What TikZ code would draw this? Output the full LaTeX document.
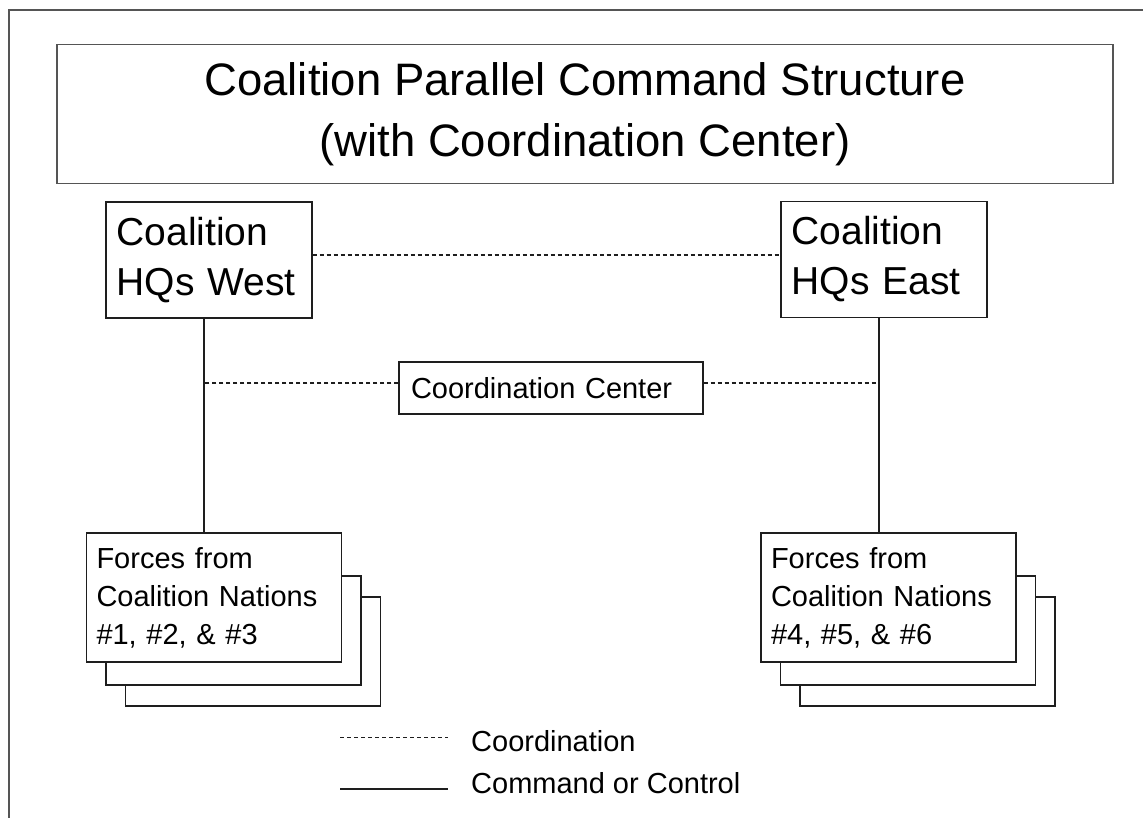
\documentclass[tikz,border=0pt]{standalone}
\usepackage{fontspec}
\setmainfont{Liberation Sans}
\usetikzlibrary{calc}

\definecolor{framegray}{RGB}{85,85,85}
\definecolor{inkline}{RGB}{30,30,30}

\tikzset{
  box/.style={draw=inkline, line width=1.3pt, fill=white, rectangle, inner sep=0pt},
  hqbox/.style={box, minimum width=206pt, minimum height=116pt, inner xsep=10.5pt,
                text width=185pt, align=left, font=\fontsize{39}{50}\selectfont},
  forcebox/.style={box, minimum width=255pt, minimum height=129pt, inner xsep=10pt,
                   text width=235pt, align=left, font=\fontsize{29}{38}\selectfont},
  backbox/.style={box, minimum width=255pt, minimum height=109pt},
  coord/.style={draw=inkline, line width=1.1pt, dash pattern=on 4pt off 3pt},
  cmd/.style={draw=inkline, line width=1.3pt},
  legendtext/.style={anchor=base west, inner sep=0pt, font=\fontsize{29}{35}\selectfont}
}

\begin{document}
\begin{tikzpicture}[x=1pt, y=-1pt]
  % page area and outer frame
  \fill[white] (0,0) rectangle (1143,817);
  \useasboundingbox (0,0) rectangle (1143,817);
  \clip (0,0) rectangle (1143,817);
  \draw[framegray, line width=2pt] (9,10) rectangle (1160,840);

  % title
  \node[draw=framegray, line width=1.5pt, minimum width=1056pt, minimum height=139pt,
        inner sep=0pt, align=center, font=\fontsize{45.5}{61}\selectfont]
        (title) at (585,114) {Coalition Parallel Command Structure\\(with Coordination Center)};

  % headquarters
  \node[hqbox] (hqw) at (209,260) {Coalition\\HQs West};
  \node[hqbox] (hqe) at (884,259.5) {Coalition\\HQs East};

  % coordination center
  \node[box, minimum width=304pt, minimum height=52pt, inner xsep=12pt, text width=280pt,
        align=left, font=\fontsize{29}{35}\selectfont] (cc) at (551,388) {Coordination Center};

  % stacked force boxes, west
  \node[backbox] (fw3) at (253,651.5) {};
  \node[backbox] (fw2) at (233.5,630.5) {};
  \node[forcebox] (fw) at (214,597.5) {Forces from\\Coalition Nations\\\#1, \#2, \& \#3};

  % stacked force boxes, east
  \node[backbox] (fe3) at (927.5,651.5) {};
  \node[backbox] (fe2) at (908,630.5) {};
  \node[forcebox] (fe) at (888.5,597.5) {Forces from\\Coalition Nations\\\#4, \#5, \& \#6};

  % command lines
  \coordinate (wv) at ([xshift=-5pt]hqw.south);
  \coordinate (ev) at ([xshift=-5pt]hqe.south);
  \draw[cmd] (wv) -- (wv |- fw.north);
  \draw[cmd] (ev) -- (ev |- fe.north);

  % coordination lines
  \draw[coord] ([yshift=5pt]hqw.east) -- ([yshift=5pt]hqw.east -| hqe.west);
  \draw[coord] ([yshift=5pt]cc.west) -- ([yshift=5pt]cc.west -| wv);
  \draw[coord] ([yshift=5pt]cc.east) -- ([yshift=5pt]cc.east -| ev);

  % legend
  \coordinate (la1) at (340,737);
  \coordinate (lb1) at (448,737);
  \coordinate (la2) at (340,789);
  \coordinate (lb2) at (448,789);
  \draw[coord, line width=1pt] (la1) -- (lb1);
  \draw[cmd] (la2) -- (lb2);
  \node[legendtext] (lcoord) at (471,751) {Coordination};
  \node[legendtext] (lcmd) at (471,793) {Command or Control};
\end{tikzpicture}
\end{document}
